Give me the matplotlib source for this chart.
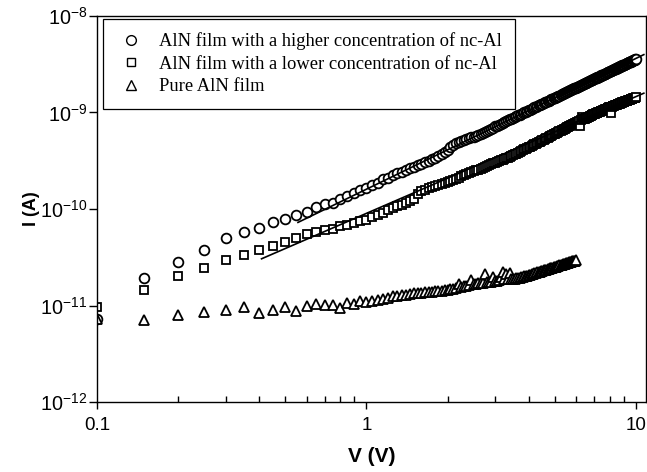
import numpy as np
import matplotlib
matplotlib.use('Agg')
import matplotlib.pyplot as plt
from matplotlib.ticker import FixedLocator, FixedFormatter, NullFormatter, NullLocator

plt.rcParams['font.family'] = ['Liberation Sans', 'DejaVu Sans']
plt.rcParams['mathtext.fontset'] = 'custom'
plt.rcParams['mathtext.rm'] = 'Liberation Sans'
plt.rcParams['mathtext.it'] = 'Liberation Sans:italic'
plt.rcParams['mathtext.bf'] = 'Liberation Sans:bold'

# Voltage sweep (V)
V = [0.10, 0.15, 0.20, 0.25, 0.30, 0.35, 0.40, 0.45, 0.50, 0.55,
     0.60, 0.65, 0.70, 0.75, 0.80, 0.85, 0.90, 0.95, 1.00,
     1.05, 1.10, 1.15, 1.20, 1.25, 1.30, 1.35, 1.40, 1.45, 1.50,
     1.55, 1.60, 1.65, 1.70, 1.75, 1.80, 1.85, 1.90, 1.95, 2.00,
     2.05, 2.10, 2.15, 2.20, 2.25, 2.30, 2.35, 2.40, 2.45, 2.50,
     2.55, 2.60, 2.65, 2.70, 2.75, 2.80, 2.85, 2.90, 2.95, 3.00,
     3.05, 3.10, 3.15, 3.20, 3.25, 3.30, 3.35, 3.40, 3.45, 3.50,
     3.55, 3.60, 3.65, 3.70, 3.75, 3.80, 3.85, 3.90, 3.95, 4.00,
     4.05, 4.10, 4.15, 4.20, 4.25, 4.30, 4.35, 4.40, 4.45, 4.50,
     4.55, 4.60, 4.65, 4.70, 4.75, 4.80, 4.85, 4.90, 4.95, 5.00,
     5.05, 5.10, 5.15, 5.20, 5.25, 5.30, 5.35, 5.40, 5.45, 5.50,
     5.55, 5.60, 5.65, 5.70, 5.75, 5.80, 5.85, 5.90, 5.95, 6.00,
     6.05, 6.10, 6.15, 6.20, 6.25, 6.30, 6.35, 6.40, 6.45, 6.50,
     6.55, 6.60, 6.65, 6.70, 6.75, 6.80, 6.85, 6.90, 6.95, 7.00,
     7.05, 7.10, 7.15, 7.20, 7.25, 7.30, 7.35, 7.40, 7.45, 7.50,
     7.55, 7.60, 7.65, 7.70, 7.75, 7.80, 7.85, 7.90, 7.95, 8.00,
     8.05, 8.10, 8.15, 8.20, 8.25, 8.30, 8.35, 8.40, 8.45, 8.50,
     8.55, 8.60, 8.65, 8.70, 8.75, 8.80, 8.85, 8.90, 8.95, 9.00,
     9.05, 9.10, 9.15, 9.20, 9.25, 9.30, 9.35, 9.40, 9.45, 9.50,
     9.55, 9.60, 9.65, 9.70, 9.75, 9.80, 9.85, 9.90, 9.95, 10.00]

# log10 of current (A)
logI_high = [-11.143, -10.711, -10.549, -10.420, -10.296, -10.238, -10.192, -10.137, -10.101, -10.057,
             -10.026, -9.984, -9.950, -9.933, -9.901, -9.867, -9.836, -9.805, -9.784,
             -9.755, -9.728, -9.690, -9.676, -9.652, -9.632, -9.613, -9.595, -9.577, -9.560,
             -9.545, -9.530, -9.515, -9.501, -9.487, -9.469, -9.452, -9.435, -9.410, -9.385,
             -9.355, -9.335, -9.318, -9.305, -9.295, -9.286, -9.276, -9.267, -9.258, -9.250,
             -9.241, -9.232, -9.224, -9.215, -9.204, -9.193, -9.182, -9.171, -9.160, -9.145,
             -9.135, -9.126, -9.116, -9.107, -9.098, -9.089, -9.080, -9.072, -9.063, -9.055,
             -9.046, -9.038, -9.030, -9.022, -9.014, -9.006, -8.998, -8.991, -8.983, -8.976,
             -8.969, -8.962, -8.955, -8.948, -8.941, -8.934, -8.927, -8.921, -8.914, -8.908,
             -8.901, -8.895, -8.889, -8.883, -8.877, -8.871, -8.865, -8.859, -8.853, -8.847,
             -8.841, -8.835, -8.829, -8.824, -8.818, -8.813, -8.807, -8.802, -8.796, -8.791,
             -8.786, -8.781, -8.776, -8.771, -8.766, -8.761, -8.756, -8.751, -8.746, -8.741,
             -8.736, -8.731, -8.726, -8.722, -8.717, -8.713, -8.708, -8.703, -8.699, -8.694,
             -8.690, -8.685, -8.681, -8.677, -8.672, -8.668, -8.664, -8.660, -8.655, -8.651,
             -8.647, -8.643, -8.639, -8.635, -8.631, -8.627, -8.623, -8.619, -8.615, -8.611,
             -8.607, -8.604, -8.600, -8.596, -8.592, -8.589, -8.585, -8.581, -8.578, -8.574,
             -8.570, -8.567, -8.563, -8.560, -8.556, -8.553, -8.549, -8.546, -8.542, -8.539,
             -8.535, -8.532, -8.529, -8.525, -8.522, -8.519, -8.515, -8.512, -8.509, -8.506,
             -8.503, -8.500, -8.496, -8.493, -8.490, -8.487, -8.484, -8.481, -8.478, -8.475,
             -8.472, -8.469, -8.466, -8.463, -8.460, -8.457, -8.454, -8.451, -8.448, -8.445]

logI_low = [-11.016, -10.842, -10.690, -10.614, -10.531, -10.472, -10.427, -10.383, -10.345, -10.298,
            -10.258, -10.235, -10.220, -10.203, -10.180, -10.163, -10.142, -10.127, -10.109,
            -10.084, -10.060, -10.037, -10.015, -9.994, -9.974, -9.954, -9.935, -9.917, -9.900,
            -9.840, -9.815, -9.800, -9.785, -9.774, -9.763, -9.752, -9.741, -9.731, -9.720,
            -9.708, -9.696, -9.685, -9.674, -9.663, -9.652, -9.641, -9.631, -9.620, -9.610,
            -9.600, -9.591, -9.581, -9.572, -9.563, -9.554, -9.546, -9.537, -9.528, -9.520,
            -9.512, -9.504, -9.496, -9.489, -9.481, -9.474, -9.467, -9.460, -9.451, -9.442,
            -9.433, -9.425, -9.416, -9.408, -9.399, -9.391, -9.383, -9.375, -9.367, -9.360,
            -9.353, -9.346, -9.338, -9.331, -9.323, -9.316, -9.309, -9.302, -9.295, -9.288,
            -9.281, -9.274, -9.267, -9.260, -9.253, -9.246, -9.239, -9.233, -9.226, -9.220,
            -9.214, -9.208, -9.202, -9.196, -9.190, -9.184, -9.178, -9.172, -9.166, -9.160,
            -9.154, -9.149, -9.143, -9.138, -9.132, -9.127, -9.121, -9.116, -9.110, -9.105,
            -9.100, -9.095, -9.090, -9.140, -9.080, -9.050, -9.072, -9.068, -9.065, -9.062,
            -9.059, -9.055, -9.050, -9.045, -9.040, -9.035, -9.030, -9.025, -9.020, -9.015,
            -9.011, -9.008, -9.004, -9.001, -8.997, -8.994, -8.990, -8.987, -8.983, -8.980,
            -8.976, -8.973, -8.969, -8.966, -8.962, -8.959, -8.955, -8.952, -8.948, -8.945,
            -8.942, -9.005, -8.938, -8.935, -8.932, -8.929, -8.926, -8.923, -8.920, -8.918,
            -8.915, -8.912, -8.910, -8.907, -8.904, -8.901, -8.899, -8.896, -8.893, -8.890,
            -8.887, -8.885, -8.882, -8.880, -8.878, -8.876, -8.873, -8.871, -8.868, -8.866,
            -8.863, -8.861, -8.859, -8.857, -8.854, -8.852, -8.850, -8.848, -8.845, -8.843]

logI_pure = [-11.143, -11.146, -11.094, -11.063, -11.047, -11.016, -11.074, -11.043, -11.016, -11.057,
             -11.000, -10.980, -10.990, -10.990, -11.026, -10.970, -10.980, -10.953, -10.964,
             -10.950, -10.942, -10.935, -10.920, -10.900, -10.898, -10.893, -10.888, -10.882, -10.875,
             -10.870, -10.866, -10.862, -10.858, -10.855, -10.852, -10.850, -10.845, -10.840, -10.835,
             -10.830, -10.826, -10.820, -10.773, -10.808, -10.800, -10.795, -10.790, -10.740, -10.780,
             -10.776, -10.772, -10.768, -10.764, -10.670, -10.756, -10.752, -10.757, -10.700, -10.745,
             -10.742, -10.740, -10.700, -10.655, -10.730, -10.672, -10.728, -10.668, -10.726, -10.725,
             -10.722, -10.720, -10.716, -10.712, -10.708, -10.703, -10.699, -10.695, -10.690, -10.686,
             -10.681, -10.677, -10.672, -10.667, -10.663, -10.658, -10.654, -10.649, -10.645, -10.641,
             -10.636, -10.632, -10.628, -10.624, -10.620, -10.616, -10.612, -10.608, -10.604, -10.600,
             -10.596, -10.593, -10.589, -10.585, -10.582, -10.578, -10.575, -10.571, -10.568, -10.564,
             -10.561, -10.557, -10.554, -10.550, -10.547, -10.544, -10.540, -10.537, -10.534, -10.531]

# fitted straight lines (log-log), endpoints
fit_high_V = [0.557, 10.7]
fit_high_logI = [-10.139, -8.40]
fit_low_V = [0.408, 10.7]
fit_low_logI = [-10.516, -8.80]

labels = ['AlN film with a higher concentration of nc-Al',
          'AlN film with a lower concentration of nc-Al',
          'Pure AlN film']

xticks = [0.1, 1, 10]
xticklabels = ['0.1', '1', '10']
yticks = [1e-12, 1e-11, 1e-10, 1e-9, 1e-8]
yticklabels = ['$10^{-12}$', '$10^{-11}$', '$10^{-10}$', '$10^{-9}$', '$10^{-8}$']

fig = plt.figure(figsize=(6.47, 4.72), dpi=100)
ax = fig.add_axes([97/647, 70/472, 549/647, 386/472])

def series(vals):
    n = min(len(V), len(vals))
    return np.array(V[:n]), 10.0 ** np.array(vals[:n])

mk = dict(linestyle='none', markerfacecolor='white', markeredgecolor='black',
          markeredgewidth=1.3)
x1, y1 = series(logI_high)
x2, y2 = series(logI_low)
x3, y3 = series(logI_pure)
h1, = ax.plot(x1, y1, marker='o', markersize=7, label=labels[0], **mk)
h2, = ax.plot(x2, y2, marker='s', markersize=6.3, label=labels[1], **mk)
h3, = ax.plot(x3, y3, marker='^', markersize=7, label=labels[2], **mk)

ax.plot(fit_high_V, 10.0 ** np.array(fit_high_logI), color='black', lw=1.2, zorder=5)
ax.plot(fit_low_V, 10.0 ** np.array(fit_low_logI), color='black', lw=1.2, zorder=5)

ax.set_xscale('log')
ax.set_yscale('log')
ax.set_xlim(0.1, 10.9)
ax.set_ylim(1e-12, 1e-8)

ax.xaxis.set_major_locator(FixedLocator(xticks))
ax.xaxis.set_major_formatter(FixedFormatter(xticklabels))
minor = [m * d for d in (0.1, 1) for m in range(2, 10)]
ax.xaxis.set_minor_locator(FixedLocator(minor))
ax.xaxis.set_minor_formatter(NullFormatter())
ax.yaxis.set_major_locator(FixedLocator(yticks))
ax.yaxis.set_major_formatter(FixedFormatter(yticklabels))
ax.yaxis.set_minor_locator(NullLocator())

ax.tick_params(axis='x', which='major', direction='out', length=5, width=1, labelsize=13.5, pad=6)
ax.tick_params(axis='x', which='minor', direction='in', length=4, width=1)
ax.tick_params(axis='y', which='major', direction='out', length=6, width=1, labelsize=14.3, pad=1)
ax.tick_params(top=False, right=False)

for s in ax.spines.values():
    s.set_linewidth(1.0)
    s.set_color('black')

ax.set_xlabel('V (V)', fontsize=15, fontweight='bold', labelpad=9)
ax.set_ylabel('I (A)', fontsize=13, fontweight='bold', va='center')
ax.yaxis.set_label_coords((31 - 97) / 549, 0.5)

leg = ax.legend(handles=[h1, h2, h3], loc='upper left',
                bbox_to_anchor=(6/549, 1 - 3/386), borderaxespad=0,
                prop={'family': 'Liberation Serif', 'size': 13.3},
                frameon=True, fancybox=False, edgecolor='black', framealpha=1,
                handlelength=1.6, handletextpad=0.7, labelspacing=0.3,
                borderpad=0.72, numpoints=1)
leg.get_frame().set_linewidth(0.9)
for lh in leg.legend_handles:
    lh.set_markeredgewidth(1.0)

fig.savefig('out.png', dpi=100)
